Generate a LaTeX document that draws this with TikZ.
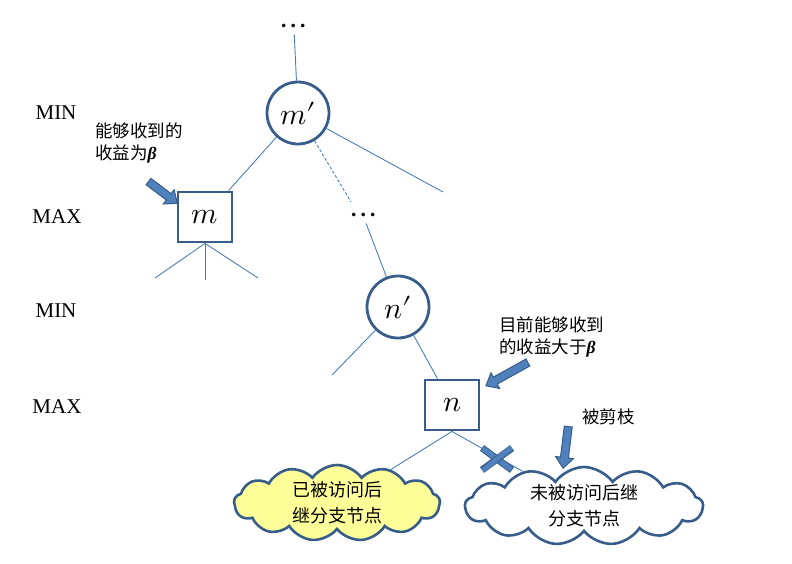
\documentclass[tikz,border=0pt]{standalone}
\usepackage{amsmath}
\usepackage{fontspec}
\usepackage{unicode-math}
\setmainfont{Liberation Serif}
\setmathfont{Latin Modern Math}
\newfontfamily\cjk{Noto Sans CJK SC}
\newcommand{\bbeta}{{\rmfamily\bfseries\itshape β}}
\usepackage{tikz}
\usetikzlibrary{shapes.symbols,shapes.arrows}
\definecolor{edgeblue}{HTML}{4A7EBB}
\definecolor{rimblue}{HTML}{385D8A}
\definecolor{fillblue}{HTML}{4F81BD}
\definecolor{visyellow}{HTML}{FFFF99}

\begin{document}
\begin{tikzpicture}[
  x=1pt,y=-1pt,
  edge/.style={edgeblue,line width=0.9pt},
  minnode/.style={circle,draw=rimblue,line width=2.8pt,fill=white,minimum size=62pt,inner sep=0pt,font=\fontsize{30}{32}\selectfont},
  maxnode/.style={rectangle,draw=rimblue,line width=2.8pt,fill=white,minimum width=54pt,minimum height=50pt,inner sep=0pt,font=\fontsize{30}{32}\selectfont},
  level/.style={font=\fontsize{21}{24}\selectfont},
  note/.style={align=left,font=\cjk\fontsize{17.5}{22}\selectfont,inner sep=0pt},
  bubble/.style={cloud,cloud puffs=13,cloud puff arc=110,cloud ignores aspect,inner sep=0pt,draw=rimblue,line width=2.6pt,align=center,font=\cjk\fontsize{18}{26}\selectfont},
  hint/.style={single arrow,draw=rimblue,fill=fillblue,line width=1pt,inner sep=3.5pt,single arrow head extend=5pt,single arrow tip angle=80},
  dots/.style={font=\fontsize{34}{34}\selectfont,inner sep=0pt}
]
\useasboundingbox (0,0) rectangle (792,563);

% level labels
\node[level] (min1) at (56,113) {MIN};
\node[level] (max1) at (57,217) {MAX};
\node[level] (min2) at (56,311) {MIN};
\node[level] (max2) at (57,407) {MAX};

% tree nodes
\node[dots] (top) at (294,29) {$\cdots$};
\node[minnode] (mp) at (298,113) {$m\prime$};
\node[maxnode] (m) at (205,217) {$m$};
\node[dots] (mid) at (364,218) {$\cdots$};
\node[minnode] (np) at (398,307) {$n\prime$};
\node[maxnode] (n) at (452,405) {$n$};

% clouds
\node[bubble,fill=visyellow,minimum width=206pt,minimum height=76pt] (vis) at (337,503) {已被访问后\\继分支节点};
\node[bubble,fill=white,minimum width=238pt,minimum height=78pt] (unvis) at (584,506) {未被访问后继\\分支节点};

% loose ends
\coordinate (mpr) at (443,192);
\coordinate (mpd) at (351,202);
\coordinate (ml) at (155,278);
\coordinate (mc) at (205,280);
\coordinate (mr) at (258,278);
\coordinate (npl) at (332,375);
\coordinate (cut) at (497,459);

% edges
\draw[edge] (top) -- (mp);
\draw[edge] (mp) -- (m);
\draw[edge] (mp) -- (mpr);
\draw[edge,densely dashed] (mp) -- (mpd);
\draw[edge] (m.south) -- (ml);
\draw[edge] (m.south) -- (mc);
\draw[edge] (m.south) -- (mr);
\draw[edge] (mid) -- (np);
\draw[edge] (np) -- (npl);
\draw[edge] (np) -- (n);
\draw[edge] (n.south) -- (vis);
\draw[edge] (n.south) -- (unvis);

% pruning mark
\foreach \dx/\dy in {15/11,15/-11}{
  \draw[rimblue,line width=7pt] ([shift={(-\dx,-\dy)}]cut) -- ([shift={(\dx,\dy)}]cut);
  \draw[fillblue,line width=5pt] ([shift={(-\dx+0.7,-\dy+0.5)}]cut) -- ([shift={(\dx-0.7,\dy-0.5)}]cut);
}

% notes
\node[note,anchor=west] (noteb) at (95,143) {能够收到的\\收益为\bbeta};
\node[note,anchor=west] (notea) at (499,337) {目前能够收到\\的收益大于\bbeta};
\node[note,anchor=west] (notec) at (582,417) {被剪枝};

% pointer arrows
\node[hint,minimum height=36pt,minimum width=17pt,rotate=-37] (pb) at (161,191) {};
\node[hint,minimum height=48pt,minimum width=18pt,rotate=-151] (pa) at (509,373) {};
\node[hint,minimum height=42pt,minimum width=18pt,rotate=-97] (pc) at (566,445) {};
\end{tikzpicture}
\end{document}
